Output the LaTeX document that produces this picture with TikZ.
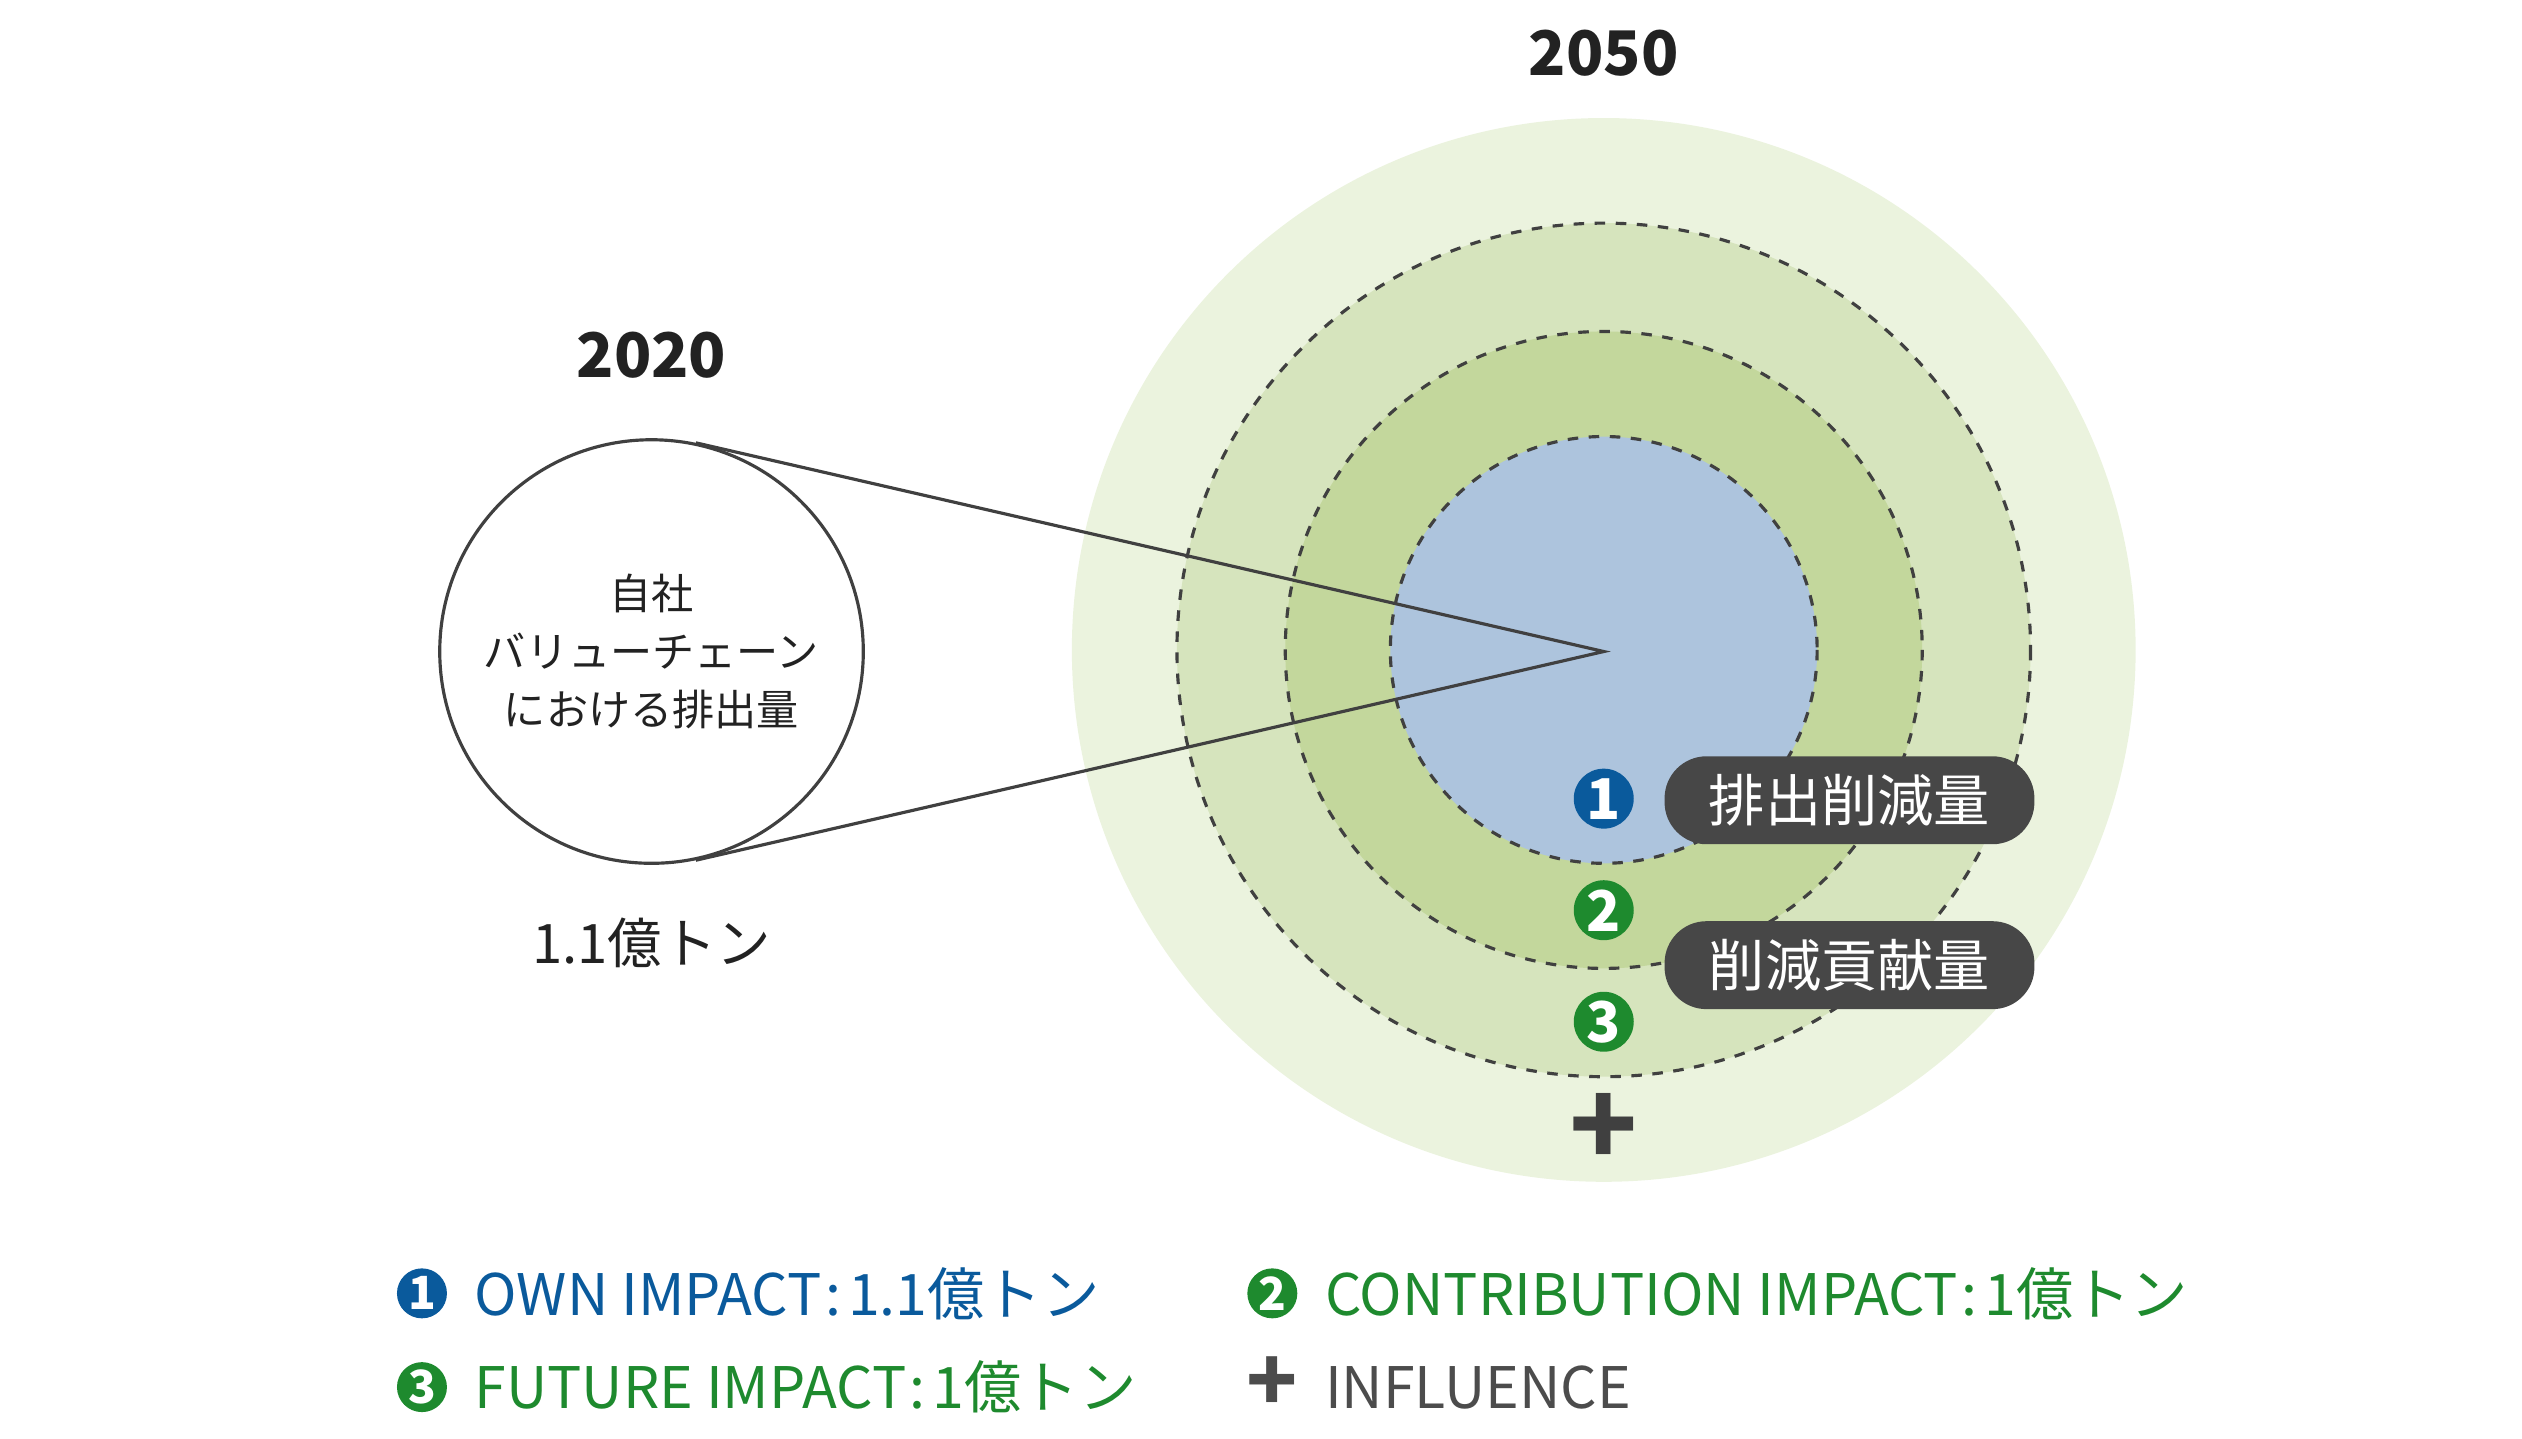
\documentclass[tikz,border=0pt]{standalone}
\usepackage{fontspec}
\setmainfont{Noto Sans CJK JP}
\definecolor{g1}{HTML}{EBF3DE}\definecolor{g2}{HTML}{D6E4BD}\definecolor{g3}{HTML}{C3D79C}
\definecolor{bl}{HTML}{ADC4DD}\definecolor{dblue}{HTML}{0A5A9C}\definecolor{dgreen}{HTML}{1E8A2E}
\definecolor{dbox}{HTML}{474747}\definecolor{tx}{HTML}{222222}
\tikzset{ring/.style={draw=black!75,dashed,line width=0.9pt},
num/.style={circle,inner sep=0pt,minimum size=0.6cm,text=white,font=\fontsize{16}{16}\selectfont\bfseries},
lbl/.style={rounded corners=0.42cm,fill=dbox,text=white,minimum width=3.7cm,minimum height=0.88cm,font=\fontsize{16}{16}\selectfont},
leg/.style={anchor=west,font=\fontsize{16.3}{16.3}\selectfont},
yr/.style={font=\fontsize{17.5}{17.5}\selectfont\bfseries,text=tx}}
\begin{document}
\begin{tikzpicture}[x=0.016167cm,y=-0.016167cm]
\useasboundingbox (0,0) rectangle (1560,890);
\fill[g1] (992,402) circle (329);
\fill[g2] (992,402) circle (264);
\fill[g3] (992,402) circle (197);
\fill[bl] (992,402) circle (132);
\draw[ring] (992,402) circle (264);
\draw[ring] (992,402) circle (197);
\draw[ring] (992,402) circle (132);
\node[circle,draw=black!75,line width=0.9pt,inner sep=0pt,minimum size=262*0.016167cm,align=center,
  font=\fontsize{12}{16.5}\selectfont,text=tx] (own) at (403,403) {自社\\バリューチェーン\\における排出量};
\coordinate (c) at (992,403);
\draw[black!75,line width=0.9pt] (own.78) -- (c) -- (own.-78);
\node[yr] (y1) at (403,220) {2020};
\node[yr] (y2) at (992,33) {2050};
\node[font=\fontsize{15.5}{15.5}\selectfont,text=tx] (amt) at (403,583) {1.1億トン};
\node[num,fill=dblue] (n1) at (992,494) {1};
\node[num,fill=dgreen] (n2) at (992,563) {2};
\node[num,fill=dgreen] (n3) at (992,632) {3};
\node[font=\fontsize{32}{32}\selectfont\bfseries,text=black!75] (pl) at (992,699) {+};
\node[lbl] (b1) at (1144,495) {排出削減量};
\node[lbl] (b2) at (1144,597) {削減貢献量};
\node[num,fill=dblue,minimum size=0.5cm,font=\fontsize{13}{13}\selectfont\bfseries] (l1) at (261,800) {1};
\node[leg,text=dblue] (t1) at (286,800) {OWN IMPACT\kern1pt:\kern2pt1.1億トン};
\node[num,fill=dgreen,minimum size=0.5cm,font=\fontsize{13}{13}\selectfont\bfseries] (l2) at (787,800) {2};
\node[leg,text=dgreen] (t2) at (812,800) {CONTRIBUTION IMPACT\kern1pt:\kern2pt1億トン};
\node[num,fill=dgreen,minimum size=0.5cm,font=\fontsize{13}{13}\selectfont\bfseries] (l3) at (261,858) {3};
\node[leg,text=dgreen] (t3) at (286,858) {FUTURE IMPACT\kern1pt:\kern2pt1億トン};
\node[font=\fontsize{24}{24}\selectfont\bfseries,text=black!70] (l4) at (787,856) {+};
\node[leg,text=black!70] (t4) at (812,858) {INFLUENCE};
\end{tikzpicture}
\end{document}
